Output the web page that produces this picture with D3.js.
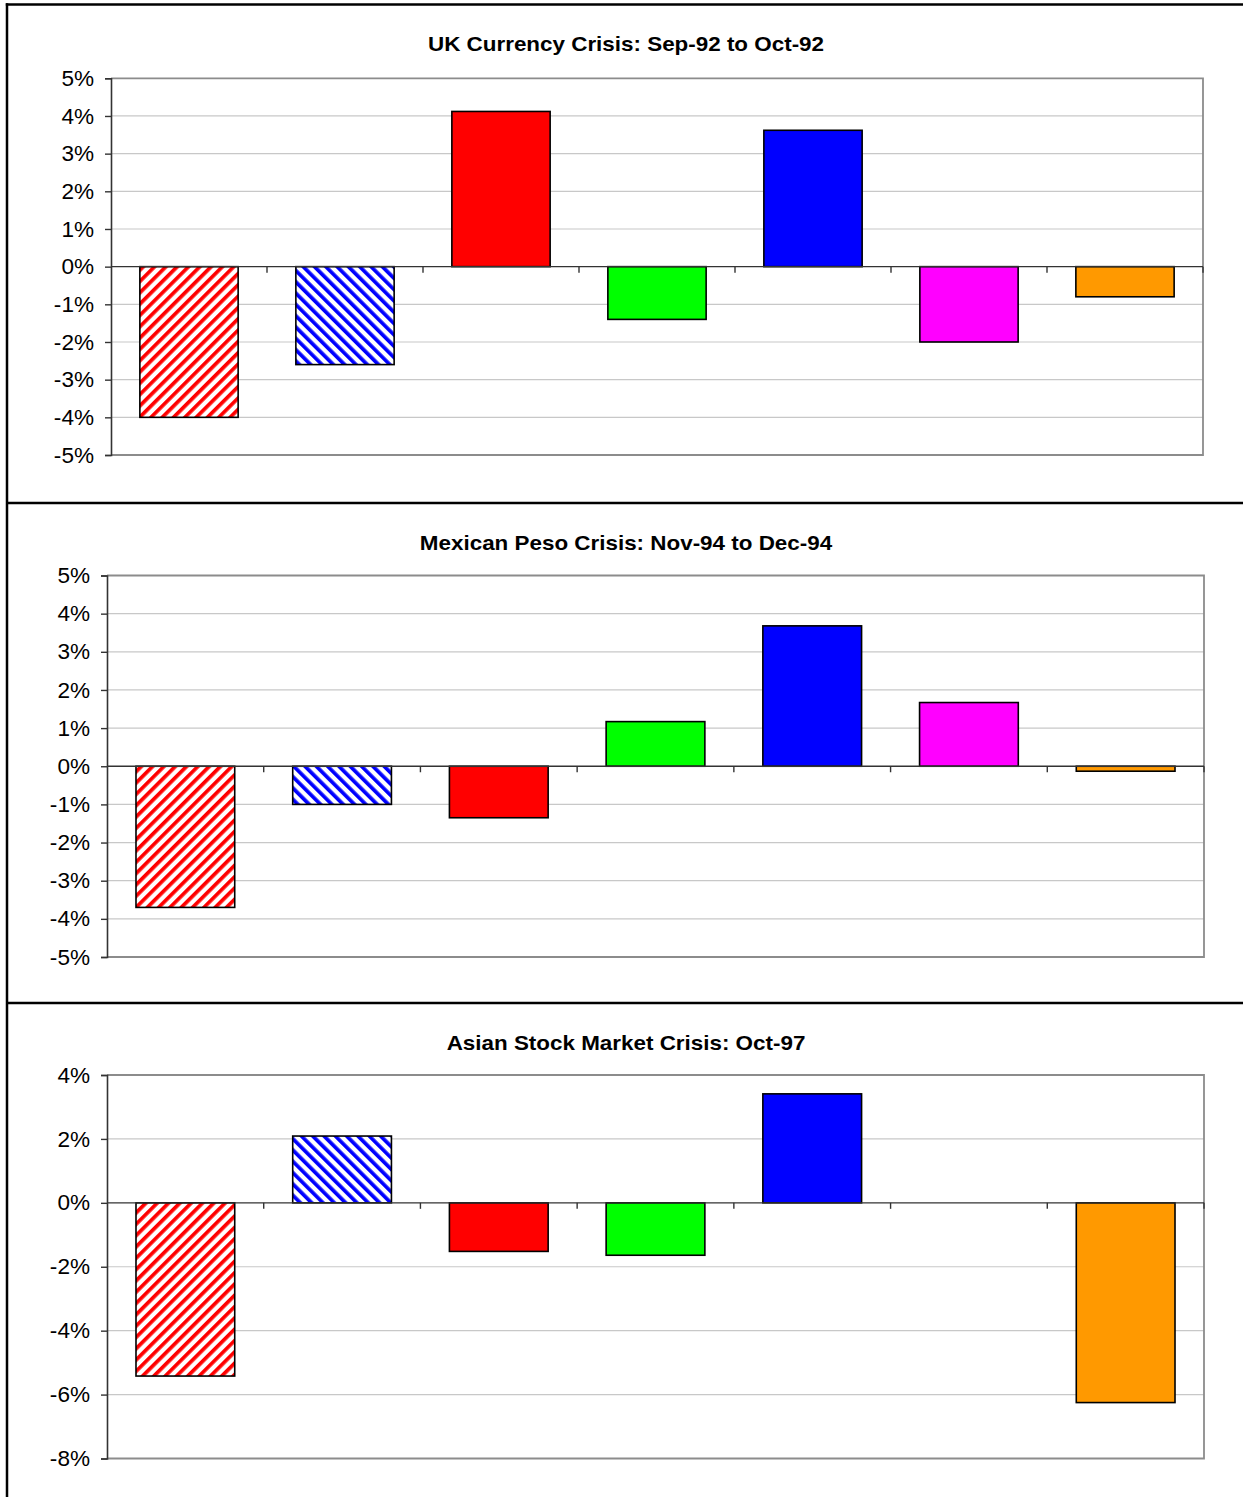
<!DOCTYPE html>
<html>
<head>
<meta charset="utf-8">
<script src="https://cdn.jsdelivr.net/npm/d3@7"></script>
<style>
  body { margin: 0; background: #fff; }
  svg { display: block; }
  text { font-family: "Liberation Sans", Arial, sans-serif; fill: #000; }
</style>
</head>
<body>
<svg id="chart" width="1243" height="1497"></svg>
<script>
// Seven asset groups, same order and colouring in every panel
const categories = ["g1", "g2", "g3", "g4", "g5", "g6", "g7"];
const barFills = ["url(#hatchRed)", "url(#hatchBlue)", "#FF0000", "#00FF00", "#0000FF", "#FF00FF", "#FF9900"];

// Percentage returns over each crisis window
const ukValues   = [-4.0, -2.6, 4.12, -1.4, 3.62, -2.0, -0.8];
const mexValues  = [-3.7, -1.0, -1.35, 1.17, 3.68, 1.67, -0.13];
const asiaValues = [-5.42, 2.09, -1.52, -1.64, 3.41, null, -6.25];

const titles = [
  "UK Currency Crisis: Sep-92 to Oct-92",
  "Mexican Peso Crisis: Nov-94 to Dec-94",
  "Asian Stock Market Crisis: Oct-97"
];

const ukTicks   = [5, 4, 3, 2, 1, 0, -1, -2, -3, -4, -5];
const mexTicks  = [5, 4, 3, 2, 1, 0, -1, -2, -3, -4, -5];
const asiaTicks = [4, 2, 0, -2, -4, -6, -8];

const panels = [
  { title: titles[0], values: ukValues,   ticks: ukTicks,   domain: [-5, 5], x0: 111, x1: 1203, y0: 78.3,  y1: 455,    titleY: 51 },
  { title: titles[1], values: mexValues,  ticks: mexTicks,  domain: [-5, 5], x0: 107, x1: 1204, y0: 575.5, y1: 957,    titleY: 550 },
  { title: titles[2], values: asiaValues, ticks: asiaTicks, domain: [-8, 4], x0: 107, x1: 1204, y0: 1075,  y1: 1458.5, titleY: 1050 }
];

const svg = d3.select("#chart");
const TITLE_STRETCH = 1.15;   // wide-set lettering
const LABEL_STRETCH = 1.05;

// Diagonal hatch fills
const defs = svg.append("defs");
function hatch(id, color, angle) {
  const p = defs.append("pattern")
    .attr("id", id)
    .attr("patternUnits", "userSpaceOnUse")
    .attr("width", 8).attr("height", 8)
    .attr("patternTransform", `rotate(${angle})`);
  p.append("rect").attr("width", 8).attr("height", 8).attr("fill", "#fff");
  p.append("rect").attr("width", 3.7).attr("height", 8).attr("fill", color);
}
hatch("hatchRed", "#FF0000", 45);
hatch("hatchBlue", "#0000FF", -45);

panels.forEach(pn => {
  const g = svg.append("g");
  const x = d3.scaleBand().domain(categories).range([pn.x0, pn.x1])
    .paddingInner(0.37).paddingOuter(0.185);
  const y = d3.scaleLinear().domain(pn.domain).range([pn.y1, pn.y0]);
  const step = (pn.x1 - pn.x0) / categories.length;

  // horizontal gridlines
  g.selectAll("line.grid").data(pn.ticks.filter(t => t !== 0 && t !== pn.domain[0] && t !== pn.domain[1]))
    .join("line").attr("class", "grid")
    .attr("x1", pn.x0).attr("x2", pn.x1)
    .attr("y1", d => y(d)).attr("y2", d => y(d))
    .attr("stroke", "#c8c8c8").attr("stroke-width", 1.2);

  // plot frame: top, right, bottom
  g.append("path")
    .attr("d", `M${pn.x0},${y(pn.domain[1])} H${pn.x1} V${y(pn.domain[0])} H${pn.x0}`)
    .attr("fill", "none").attr("stroke", "#8c8c8c").attr("stroke-width", 1.8);

  // bars
  g.selectAll("rect.bar").data(categories.map((c, i) => ({ c, v: pn.values[i], fill: barFills[i] })).filter(d => d.v !== null))
    .join("rect").attr("class", "bar")
    .attr("x", d => x(d.c))
    .attr("width", x.bandwidth())
    .attr("y", d => y(Math.max(0, d.v)))
    .attr("height", d => Math.abs(y(d.v) - y(0)))
    .attr("fill", d => d.fill)
    .attr("stroke", "#000").attr("stroke-width", 1.6);

  // zero line with category boundary ticks
  g.append("line")
    .attr("x1", pn.x0).attr("x2", pn.x1)
    .attr("y1", y(0)).attr("y2", y(0))
    .attr("stroke", "#333").attr("stroke-width", 1.4);
  g.selectAll("line.ctick").data(d3.range(1, categories.length + 1))
    .join("line").attr("class", "ctick")
    .attr("x1", k => pn.x0 + k * step).attr("x2", k => pn.x0 + k * step)
    .attr("y1", y(0)).attr("y2", y(0) + 6)
    .attr("stroke", "#333").attr("stroke-width", 1.4);

  // value axis
  const axis = g.append("g").attr("transform", `translate(${pn.x0},0)`)
    .call(d3.axisLeft(y).tickValues(pn.ticks).tickSize(6).tickFormat(""));
  axis.select(".domain").attr("stroke", "#333").attr("stroke-width", 1.6);
  axis.selectAll(".tick line").attr("stroke", "#333").attr("stroke-width", 1.4);

  g.selectAll("text.ylab").data(pn.ticks)
    .join("text").attr("class", "ylab")
    .attr("transform", d => `translate(${pn.x0 - 17},${y(d) + 7.6}) scale(${LABEL_STRETCH},1)`)
    .attr("text-anchor", "end")
    .attr("font-size", 21.5)
    .text(d => d + "%");

  // panel title
  g.append("text")
    .attr("transform", `translate(626,${pn.titleY}) scale(${TITLE_STRETCH},1)`)
    .attr("text-anchor", "middle")
    .attr("font-size", 19.5)
    .attr("font-weight", "bold")
    .text(pn.title);
});

// outer frame and panel dividers
const frame = svg.append("g").attr("stroke", "#000").attr("stroke-width", 2.5).attr("fill", "none");
frame.append("line").attr("x1", 5.8).attr("x2", 1243).attr("y1", 4.5).attr("y2", 4.5);
frame.append("line").attr("x1", 7).attr("x2", 7).attr("y1", 3.3).attr("y2", 1497);
frame.selectAll("line.div").data([503, 1003]).join("line").attr("class", "div")
  .attr("x1", 7).attr("x2", 1243).attr("y1", d => d).attr("y2", d => d);
</script>
</body>
</html>
